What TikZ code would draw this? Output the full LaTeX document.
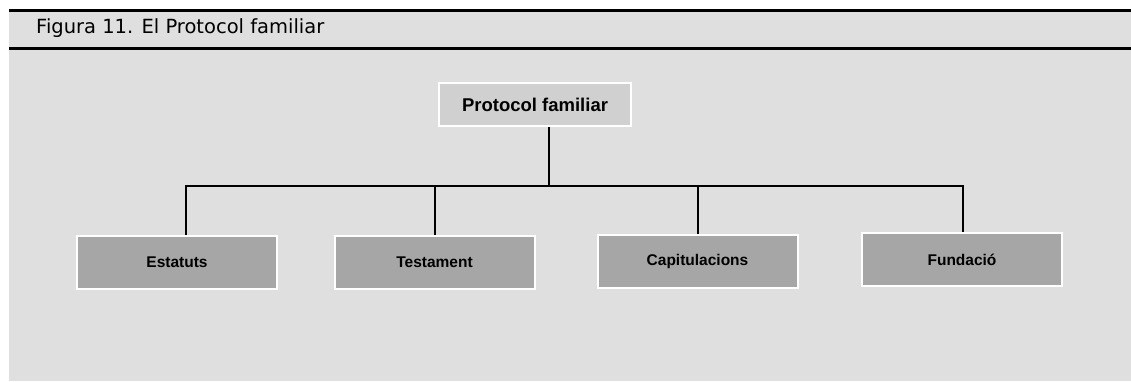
\documentclass[tikz,border=0pt]{standalone}
\usepackage{fontspec}
\setmainfont{Liberation Sans}
\newfontfamily\titlefont{DejaVu Sans}
\usetikzlibrary{positioning, calc}
\definecolor{panelGrey}{HTML}{DFDFDF}
\definecolor{topGrey}{HTML}{D0D0D0}
\definecolor{leafGrey}{HTML}{A6A6A6}
\tikzset{
  block/.style = {
    draw=white,
    line width=2pt,
    align=center,
    inner sep=0pt,
    font=\fontsize{15.5}{18}\selectfont\bfseries,
  },
  rootBlock/.style = {
    block,
    fill=topGrey,
    minimum width=192pt,
    minimum height=43pt,
    font=\fontsize{18.5}{22}\selectfont\bfseries,
  },
  leafBlock/.style = {
    block,
    fill=leafGrey,
    minimum width=200pt,
    minimum height=53pt,
  },
  branch/.style = {
    line width=2pt,
  },
  rule/.style = {
    line width=2.8pt,
  },
}

\begin{document}
\begin{tikzpicture}[x=1pt, y=-1pt]
\useasboundingbox (0,0) rectangle (1131,381);
\fill[panelGrey] (9,10) rectangle (1131,381);
\draw[rule] (9,10.5) -- (1131,10.5);
\draw[rule] (9,48.5) -- (1131,48.5);
\node(Title)[anchor=base west, inner sep=0pt, font=\titlefont\fontsize{19.5}{23}\selectfont]
  at (36,33) {Figura 11. El Protocol familiar};

\node(Protocol)[rootBlock] at (535,104.5) {Protocol familiar};

\node(Estatuts)[leafBlock] at (177,262.5) {Estatuts};
\node(Testament)[leafBlock] at (434.5,262) {Testament};
\node(Capitulacions)[leafBlock] at (697.5,261.5) {Capitulacions};
\node(Fundacio)[leafBlock] at (962,259.5) {Fundació};

\coordinate (Split) at ([xshift=14pt]Protocol.south |- 0,186);
\draw[branch] ([xshift=14pt]Protocol.south) -- (Split);
\draw[branch] ([xshift=9pt]Estatuts.north) |- (Split) -| ([xshift=1pt]Fundacio.north);
\draw[branch] (Testament.north) -- (Testament.north |- Split);
\draw[branch] (Capitulacions.north) -- (Capitulacions.north |- Split);

\end{tikzpicture}
\end{document}
